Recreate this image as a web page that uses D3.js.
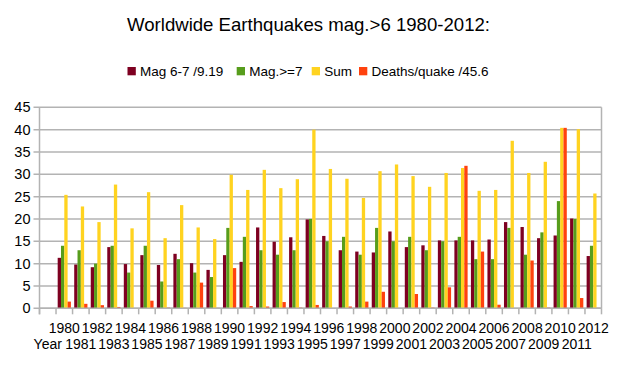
<!DOCTYPE html>
<html><head><meta charset="utf-8">
<script src="https://cdn.jsdelivr.net/npm/d3@7"></script>
<style>body{margin:0;background:#fff}svg{display:block}text{font-family:"Liberation Sans",Arial,sans-serif;fill:#000}</style>
</head><body><svg id="c" width="621" height="365"></svg>
<script>
const categories = ["Year","1980","1981","1982","1983","1984","1985","1986","1987","1988","1989","1990","1991","1992","1993","1994","1995","1996","1997","1998","1999","2000","2001","2002","2003","2004","2005","2006","2007","2008","2009","2010","2011","2012"];
const mag67 = [null,11.3,9.8,9.2,13.7,9.9,11.9,9.7,12.2,10.1,8.6,11.9,10.4,18.1,14.9,15.9,19.9,16.2,13.0,12.7,12.5,17.2,13.7,14.1,15.2,15.2,15.2,15.4,19.3,18.2,15.7,16.3,20.1,11.7];
const mag7 = [null,14,13,10,14,8,14,6,11,8,7,18,16,13,12,13,20,15,16,12,18,15,16,13,15,16,11,11,18,12,17,24,20,14];
const sum = [null,25.4,22.8,19.3,27.7,17.9,26,15.7,23.1,18.1,15.5,29.9,26.5,31,26.9,28.9,40,31.2,29,24.7,30.7,32.2,29.6,27.2,30.3,31.4,26.3,26.5,37.5,30.3,32.8,40.4,40.1,25.7];
const deaths = [null,1.5,1.0,0.7,0.3,0.05,1.7,0.15,0.1,5.75,0.1,9.0,0.5,0.4,1.4,0.15,0.75,0,0.4,1.5,3.7,0,3.2,0.15,4.7,31.9,12.7,0.8,0,10.7,0.15,40.4,2.3,0.1];
const seriesNames = ["Mag 6-7 /9.19","Mag.>=7","Sum","Deaths/quake /45.6"];
const colors = ["#7e0021","#579d1c","#ffd320","#ff420e"];
const yTicks = [0,5,10,15,20,25,30,35,40,45];
const title = "Worldwide Earthquakes mag.>6 1980-2012:";

const svg = d3.select("#c");
const L = 39.5, R = 601.5, T = 107.3, B = 308.3;
const x = d3.scaleBand().domain(categories).range([L, R]).paddingInner(0).paddingOuter(0);
const y = d3.scaleLinear().domain([0,45]).range([B, T]);
const series = [mag67, mag7, sum, deaths];
const keys = ["s0","s1","s2","s3"];
const xs = d3.scaleBand().domain(keys).range([0, x.bandwidth()]).paddingOuter(0.5).paddingInner(0);

// grid
svg.append("g").selectAll("line").data(yTicks).join("line")
  .attr("x1", L-6).attr("x2", R).attr("y1", d=>y(d)).attr("y2", d=>y(d))
  .attr("stroke","#b3b3b3").attr("stroke-width",1.5);
// right border
svg.append("line").attr("x1",R).attr("x2",R).attr("y1",T).attr("y2",B).attr("stroke","#b3b3b3").attr("stroke-width",1.5);

// bars
const rows = categories.map((c,i)=>({c, v: series.map(s=>s[i])}));
const g = svg.append("g");
rows.forEach(r=>{
  r.v.forEach((v,k)=>{
    if (v===null || v<=0) return;
    g.append("rect").attr("x", x(r.c)+xs(keys[k])).attr("width", xs.bandwidth())
      .attr("y", y(v)).attr("height", y(0)-y(v)).attr("fill", colors[k]);
  });
});

// y axis
const yAxis = d3.axisLeft(y).tickValues(yTicks).tickSize(0).tickPadding(9);
const ya = svg.append("g").attr("transform",`translate(${L},0)`).call(yAxis);
ya.select(".domain").remove();
ya.selectAll("text").attr("font-size","14.5px").attr("font-family","Liberation Sans, Arial, sans-serif").attr("fill","#000");
svg.append("line").attr("x1",L).attr("x2",L).attr("y1",T).attr("y2",B+6).attr("stroke","#b3b3b3").attr("stroke-width",1.5);

// x axis
svg.append("line").attr("x1",L).attr("x2",R).attr("y1",B).attr("y2",B).attr("stroke","#b3b3b3").attr("stroke-width",1.5);
const bounds = categories.map(c=>x(c)).concat([R]);
svg.append("g").selectAll("line").data(bounds).join("line")
  .attr("x1",d=>d).attr("x2",d=>d).attr("y1",B).attr("y2",B+6).attr("stroke","#b3b3b3").attr("stroke-width",1.5);
svg.append("g").selectAll("text").data(categories).join("text")
  .attr("x", d=>x(d)+x.bandwidth()/2)
  .attr("y", (d,i)=> i%2===1 ? 333 : 348.5)
  .attr("text-anchor","middle").attr("font-size","14px").text(d=>d);

// title
svg.append("text").attr("x",308.5).attr("y",31).attr("text-anchor","middle").attr("font-size","18.6px").text(title);

// legend
const legX = [127.5, 236.7, 311.7, 359];
seriesNames.forEach((n,k)=>{
  svg.append("rect").attr("x",legX[k]).attr("y",67).attr("width",8.3).attr("height",8.3).attr("fill",colors[k]);
  svg.append("text").attr("x",legX[k]+12.5).attr("y",76).attr("font-size","13.5px").text(n);
});
</script></body></html>
